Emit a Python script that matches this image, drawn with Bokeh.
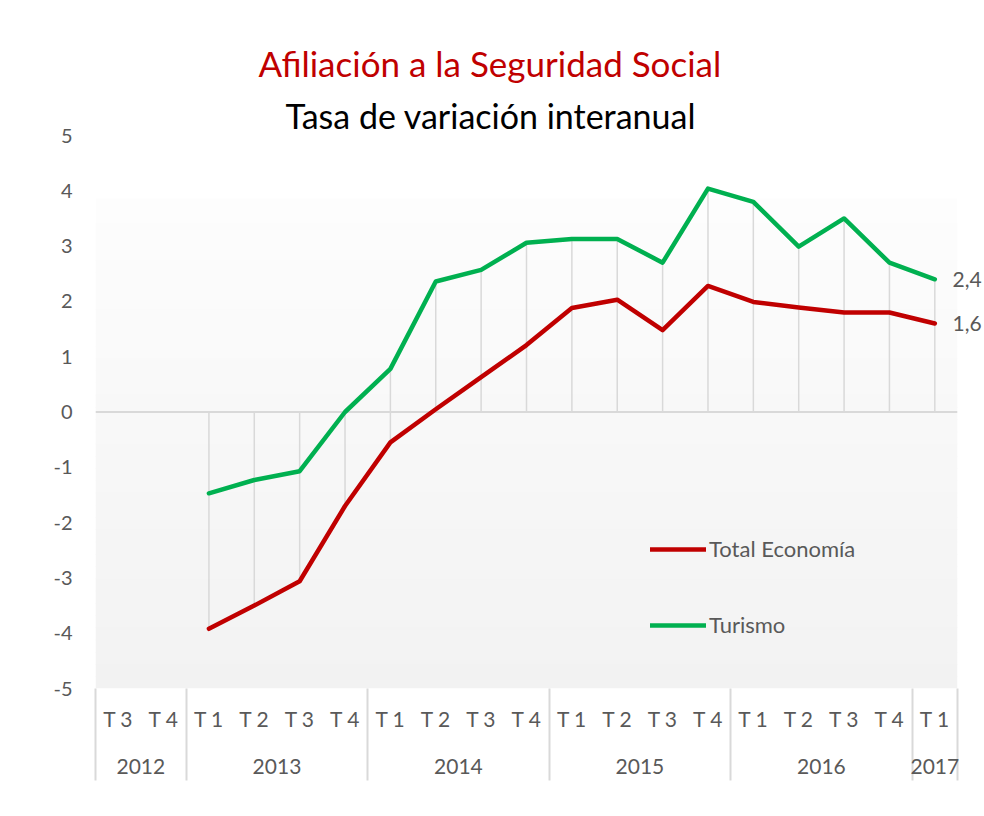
from bokeh.plotting import figure
from bokeh.models import (Range1d, LinearAxis, FixedTicker, Span, BoxAnnotation,
                          Title, Legend, LegendItem)
from bokeh.embed import file_html
from bokeh.resources import INLINE

# ---- data ----
years = ["2012", "2012",
         "2013", "2013", "2013", "2013",
         "2014", "2014", "2014", "2014",
         "2015", "2015", "2015", "2015",
         "2016", "2016", "2016", "2016",
         "2017"]
quarters = ["T 3", "T 4",
            "T 1", "T 2", "T 3", "T 4",
            "T 1", "T 2", "T 3", "T 4",
            "T 1", "T 2", "T 3", "T 4",
            "T 1", "T 2", "T 3", "T 4",
            "T 1"]
total_economia = [None, None,
                  -3.92, -3.50, -3.06, -1.70,
                  -0.55, 0.05, 0.63, 1.21,
                  1.88, 2.03, 1.48, 2.28,
                  1.99, 1.89, 1.80, 1.80,
                  1.60]
turismo = [None, None,
           -1.47, -1.23, -1.07, 0.00,
           0.78, 2.36, 2.57, 3.06,
           3.13, 3.13, 2.70, 4.04,
           3.80, 2.99, 3.50, 2.70,
           2.40]
y_ticks = [-5, -4, -3, -2, -1, 0, 1, 2, 3, 4, 5]
title_1 = "Afiliación a la Seguridad Social"
title_2 = "Tasa de variación interanual"

FONT = "Lato"
GREY_TXT = "#595959"
RED = "#c00000"
GREEN = "#00b050"
SEP = "#d9d9d9"

n = len(quarters)
xs = [i + 0.5 for i in range(n)]
nan = float("nan")
te = [nan if v is None else v for v in total_economia]
tu = [nan if v is None else v for v in turismo]

W, H = 984, 816
p = figure(width=W, height=H, output_backend="svg", toolbar_location=None,
           x_range=Range1d(0, n), y_range=Range1d(-5, 5),
           x_axis_type=None, y_axis_type=None,
           min_border_left=95, min_border_right=20, min_border_top=135,
           min_border_bottom=128)
p.outline_line_color = None
p.background_fill_color = "white"
p.border_fill_color = "white"
p.xgrid.visible = False
p.ygrid.visible = False

# gradient plot-area background
top_bg = 3.86
nb = 40
c0 = (0xfd, 0xfd, 0xfd)
c1 = (0xf2, 0xf2, 0xf2)
for k in range(nb):
    t = (k + 0.5) / nb
    col = "#%02x%02x%02x" % tuple(round(a + (b - a) * t) for a, b in zip(c0, c1))
    hi = top_bg - (top_bg + 5) * k / nb
    lo = top_bg - (top_bg + 5) * (k + 1) / nb - 0.02
    p.add_layout(BoxAnnotation(top=hi, bottom=max(lo, -5), fill_color=col, fill_alpha=1,
                               line_color=None, level="underlay"))

p.add_layout(Span(location=0, dimension="width", line_color=SEP,
                  line_width=2, level="underlay"))

# drop lines (high-low incl. zero)
sx, sy0, sy1 = [], [], []
for x, a, b in zip(xs, total_economia, turismo):
    if a is None or b is None:
        continue
    sx.append(x)
    sy0.append(max(0, a, b))
    sy1.append(min(0, a, b))
p.segment(x0=sx, y0=sy0, x1=sx, y1=sy1, line_color=SEP, line_width=1.5)

r_te = p.line(xs, te, line_color=RED, line_width=4.5, line_join="round", line_cap="round")
r_tu = p.line(xs, tu, line_color=GREEN, line_width=4.5, line_join="round", line_cap="round")


def style_axis(ax, size):
    ax.axis_line_color = None
    ax.major_tick_line_color = None
    ax.minor_tick_line_color = None
    ax.major_tick_out = 0
    ax.major_tick_in = 0
    ax.minor_tick_in = 0
    ax.minor_tick_out = 0
    ax.major_label_text_font = FONT
    ax.major_label_text_font_size = size
    ax.major_label_text_color = GREY_TXT


# y axis
yax = LinearAxis(ticker=FixedTicker(ticks=y_ticks))
yax.major_label_overrides = {v: str(v) for v in y_ticks}
style_axis(yax, "20px")
yax.major_label_standoff = 23
p.add_layout(yax, "left")

# end-value labels as a right axis
last = n - 1
end_vals = [turismo[last], total_economia[last]]
rax = LinearAxis(ticker=FixedTicker(ticks=end_vals))
rax.major_label_overrides = {v: ("%.1f" % v).replace(".", ",") for v in end_vals}
style_axis(rax, "21px")
rax.major_label_standoff = -5
p.add_layout(rax, "right")

# group boundaries
bounds = [0]
for i in range(1, n):
    if years[i] != years[i - 1]:
        bounds.append(i)
bounds.append(n)

# quarter axis; separators drawn as long minor ticks
qax = LinearAxis(ticker=FixedTicker(ticks=xs, minor_ticks=bounds))
qax.major_label_overrides = {x: q for x, q in zip(xs, quarters)}
style_axis(qax, "21px")
qax.minor_tick_out = 92
qax.minor_tick_line_color = SEP
qax.minor_tick_line_width = 2
qax.major_label_standoff = 17 - 92
p.add_layout(qax, "below")

# year axis
ycent, ylab = [], []
for a, b in zip(bounds[:-1], bounds[1:]):
    ycent.append((a + b) / 2)
    ylab.append(years[a])
yrax = LinearAxis(ticker=FixedTicker(ticks=ycent))
yrax.major_label_overrides = {c: l for c, l in zip(ycent, ylab)}
style_axis(yrax, "21px")
yrax.major_label_standoff = 25
p.add_layout(yrax, "below")

# titles (first added sits nearest the plot)
t2 = Title(text=title_2, align="left", offset=190, text_font=FONT,
           text_font_size="34px", text_color="black", text_font_style="normal",
           standoff=0)
p.add_layout(t2, "above")
t1 = Title(text=title_1, align="left", offset=163, text_font=FONT,
           text_font_size="35px", text_color=RED, text_font_style="normal",
           standoff=18)
p.add_layout(t1, "above")

legend = Legend(items=[LegendItem(label="Total Economía", renderers=[r_te]),
                       LegendItem(label="Turismo", renderers=[r_tu])],
                location=(555, 50), orientation="vertical")
legend.label_text_font = FONT
legend.label_text_font_size = "22px"
legend.label_text_color = GREY_TXT
legend.glyph_width = 56
legend.glyph_height = 20
legend.label_height = 20
legend.label_standoff = 3
legend.spacing = 49
legend.padding = 0
legend.margin = 0
legend.background_fill_alpha = 0
legend.border_line_color = None
p.add_layout(legend, "center")

open("out.html", "w").write(file_html(p, INLINE))
